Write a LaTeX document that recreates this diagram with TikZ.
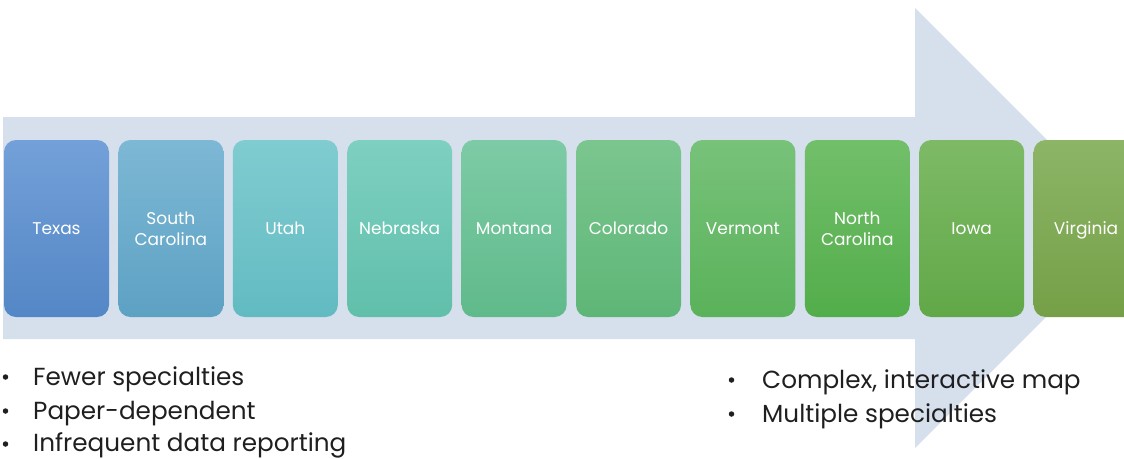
\documentclass[tikz,border=0pt]{standalone}
\usepackage{fontspec}
\setmainfont{Poppins}
\usepackage{tikz}
\usetikzlibrary{positioning}
\definecolor{arrowbg}{HTML}{D6DFEC}
\definecolor{ink}{HTML}{1F1F1F}
\definecolor{txT}{HTML}{73A0D8}\definecolor{txB}{HTML}{5487C6}
\definecolor{scT}{HTML}{7DB8D5}\definecolor{scB}{HTML}{5DA1C3}
\definecolor{utT}{HTML}{80CCD0}\definecolor{utB}{HTML}{62BBC2}
\definecolor{neT}{HTML}{7ED0C0}\definecolor{neB}{HTML}{60BFAA}
\definecolor{moT}{HTML}{7DCBA6}\definecolor{moB}{HTML}{60BA8A}
\definecolor{coT}{HTML}{7BC68F}\definecolor{coB}{HTML}{5EB676}
\definecolor{vtT}{HTML}{78C27A}\definecolor{vtB}{HTML}{5AB25A}
\definecolor{ncT}{HTML}{72BF6A}\definecolor{ncB}{HTML}{53AD4A}
\definecolor{iaT}{HTML}{7EBA66}\definecolor{iaB}{HTML}{61A848}
\definecolor{vaT}{HTML}{8CB566}\definecolor{vaB}{HTML}{75A047}
\tikzset{
  state/.style={rounded corners=12pt, minimum width=105pt, minimum height=177pt,
    inner sep=0pt, align=center, text=white, font=\fontsize{17}{21}\selectfont},
  bullet/.style={anchor=base west, inner sep=0pt, text=ink, font=\fontsize{24.7}{34}\selectfont},
  dotmark/.style={circle, fill=ink, inner sep=0pt, minimum size=5.5pt},
}
\begin{document}
\begin{tikzpicture}[x=1pt,y=-1pt]
  \useasboundingbox (0,0) rectangle (1124,458);
  % big background arrow
  \fill[arrowbg] (3,117) -- (915,117) -- (915,8) -- (1135,228)
    -- (915,448) -- (915,339) -- (3,339) -- cycle;
  % states, least to most developed
  \node[state, top color=txT, bottom color=txB] (texas) at (56.5,228.5) {Texas};
  \node[state, top color=scT, bottom color=scB, right=9pt of texas] (scarolina) {South\\Carolina};
  \node[state, top color=utT, bottom color=utB, right=9pt of scarolina] (utah) {Utah};
  \node[state, top color=neT, bottom color=neB, right=9pt of utah] (nebraska) {Nebraska};
  \node[state, top color=moT, bottom color=moB, right=9pt of nebraska] (montana) {Montana};
  \node[state, top color=coT, bottom color=coB, right=9pt of montana] (colorado) {Colorado};
  \node[state, top color=vtT, bottom color=vtB, right=9pt of colorado] (vermont) {Vermont};
  \node[state, top color=ncT, bottom color=ncB, right=9pt of vermont] (ncarolina) {North\\Carolina};
  \node[state, top color=iaT, bottom color=iaB, right=9pt of ncarolina] (iowa) {Iowa};
  \node[state, top color=vaT, bottom color=vaB, right=9pt of iowa] (virginia) {\raisebox{0pt}[\height][0pt]{Virginia}};
  % left list
  \node[dotmark] (lowdot1) at (5.5,377) {};
  \node[dotmark] (lowdot2) at (5.5,411) {};
  \node[dotmark] (lowdot3) at (5.5,444) {};
  \node[bullet] (low1) at (33,385) {Fewer specialties};
  \node[bullet] (low2) at (33,419) {Paper-dependent};
  \node[bullet] (low3) at (33,451) {Infrequent data reporting};
  % right list
  \node[dotmark] (highdot1) at (731.5,380) {};
  \node[dotmark] (highdot2) at (731.5,414) {};
  \node[bullet] (high1) at (762,388) {Complex, interactive map};
  \node[bullet] (high2) at (762,422) {Multiple specialties};
\end{tikzpicture}
\end{document}
